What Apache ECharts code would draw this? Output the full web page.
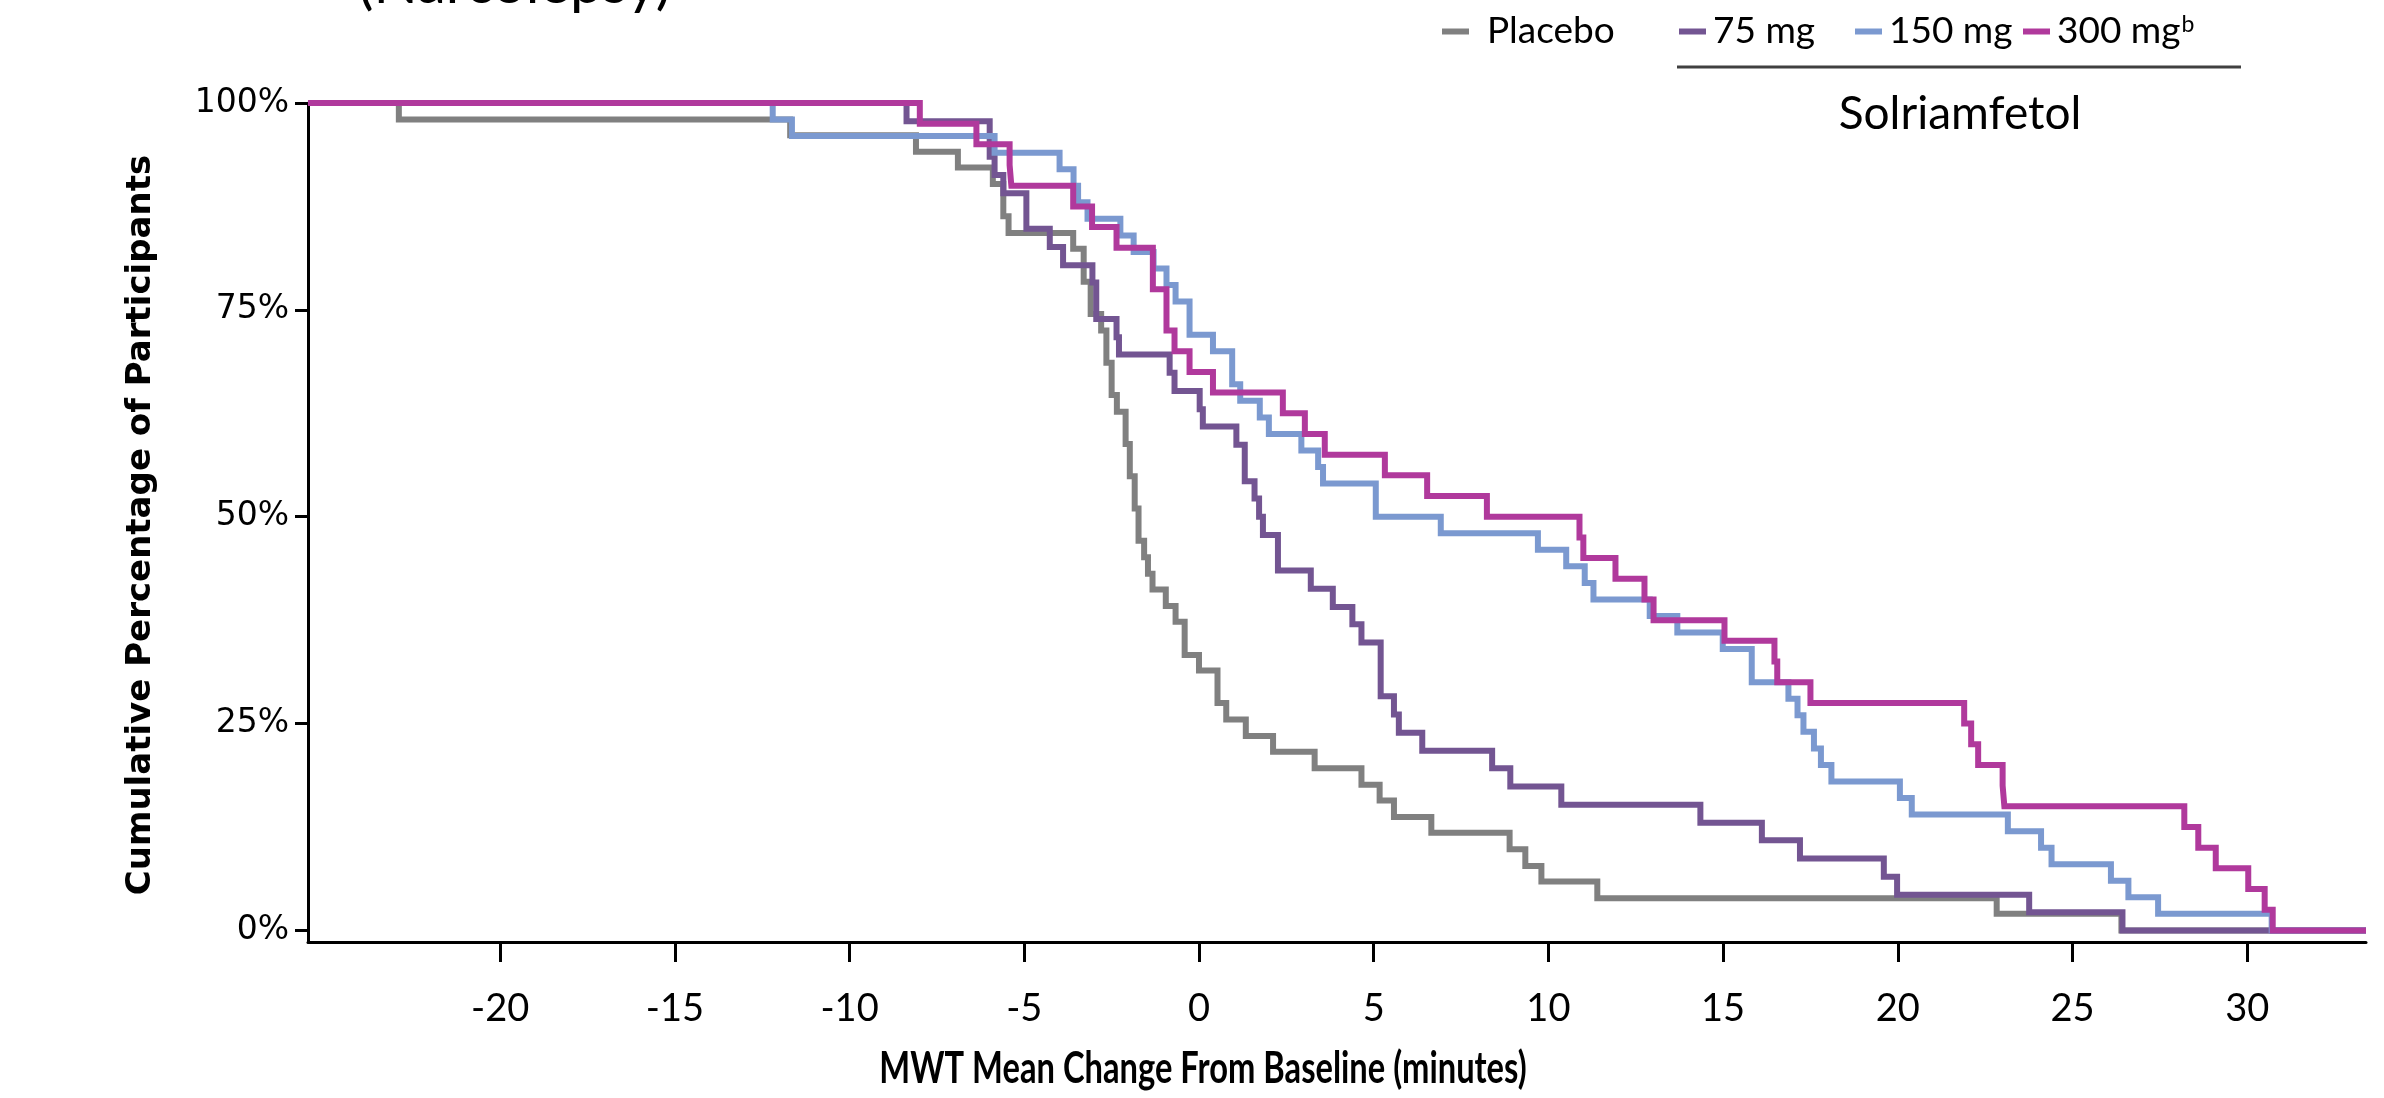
<!DOCTYPE html>
<html>
<head>
<meta charset="utf-8">
<script src="https://cdn.jsdelivr.net/npm/echarts@6/dist/echarts.min.js"></script>
<style>
  html, body { margin: 0; padding: 0; background: #ffffff; }
  #chart { width: 2384px; height: 1098px; }
</style>
</head>
<body>
<div id="chart"></div>
<script>
// Cumulative distribution of MWT change from baseline, by treatment group.
// Each step is [minutes, percent of participants still at or above that change].
const placeboSteps = [
  [-25.5, 100], [-22.9, 98.0], [-11.7, 96.1], [-8.1, 94.1], [-6.9, 92.2], [-5.9, 90.2],
  [-5.6, 86.3], [-5.45, 84.3], [-3.6, 82.4], [-3.3, 78.4], [-3.1, 74.5], [-2.8, 72.5],
  [-2.65, 68.6], [-2.5, 64.7], [-2.35, 62.7], [-2.1, 58.8], [-1.98, 54.9], [-1.84, 51.0],
  [-1.73, 47.1], [-1.57, 45.1], [-1.46, 43.1], [-1.33, 41.2], [-0.95, 39.2], [-0.67, 37.3],
  [-0.41, 33.3], [0.0, 31.4], [0.53, 27.5], [0.78, 25.5], [1.34, 23.5], [2.12, 21.6],
  [3.31, 19.6], [4.65, 17.6], [5.17, 15.7], [5.58, 13.7], [6.65, 11.8], [8.89, 9.8],
  [9.34, 7.8], [9.8, 5.9], [11.4, 3.9], [22.83, 2.0], [26.4, 0], [33.4, 0]
];
const mg75Steps = [
  [-25.5, 100], [-8.37, 97.8], [-5.99, 93.5], [-5.85, 91.3], [-5.6, 89.1], [-4.94, 84.8],
  [-4.27, 82.6], [-3.89, 80.4], [-3.05, 78.3], [-2.94, 73.9], [-2.36, 71.7], [-2.29, 69.6],
  [-0.84, 67.4], [-0.70, 65.2], [0.02, 63.0], [0.11, 60.9], [1.07, 58.7], [1.31, 54.3],
  [1.59, 52.2], [1.72, 50.0], [1.83, 47.8], [2.26, 43.5], [3.2, 41.3], [3.83, 39.1],
  [4.39, 37.0], [4.65, 34.8], [5.2, 28.3], [5.58, 26.1], [5.72, 23.9], [6.39, 21.7],
  [8.39, 19.6], [8.91, 17.4], [10.37, 15.2], [14.35, 13.0], [16.11, 10.9], [17.2, 8.7],
  [19.6, 6.5], [19.98, 4.3], [23.76, 2.2], [26.43, 0], [33.4, 0]
];
const mg150Steps = [
  [-25.5, 100], [-12.2, 98], [-11.65, 96], [-5.85, 94], [-3.99, 92], [-3.59, 90],
  [-3.46, 88], [-3.19, 86], [-2.25, 84], [-1.87, 82], [-1.30, 80], [-0.93, 78],
  [-0.67, 76], [-0.27, 72], [0.40, 70], [0.95, 66], [1.18, 64], [1.74, 62], [2.00, 60],
  [2.93, 58], [3.41, 56], [3.55, 54], [5.06, 50], [6.92, 48], [9.70, 46], [10.51, 44],
  [11.04, 42], [11.29, 40], [12.9, 38], [13.69, 36], [14.99, 34], [15.82, 30], [16.87, 28],
  [17.13, 26], [17.3, 24], [17.6, 22], [17.8, 20], [18.1, 18], [20.06, 16], [20.4, 14],
  [23.15, 12], [24.1, 10], [24.4, 8], [26.1, 6], [26.6, 4], [27.45, 2], [30.7, 0], [33.4, 0]
];
const mg300Steps = [
  [-25.5, 100], [-7.99, 97.5], [-6.37, 95], [-5.42, 92.5], [-5.37, 90], [-3.6, 87.5],
  [-3.06, 85], [-2.36, 82.5], [-1.32, 77.5], [-0.93, 72.5], [-0.70, 70], [-0.27, 67.5],
  [0.40, 65], [2.40, 62.5], [3.03, 60], [3.60, 57.5], [5.32, 55], [6.53, 52.5], [8.24, 50],
  [10.89, 47.5], [11.0, 45], [11.92, 42.5], [12.75, 40], [13.01, 37.5], [15.04, 35],
  [16.47, 32.5], [16.55, 30], [17.5, 27.5], [21.9, 25], [22.1, 22.5], [22.3, 20],
  [23.0, 17.5], [23.05, 15], [28.2, 12.5], [28.6, 10], [29.1, 7.5], [30.03, 5],
  [30.5, 2.5], [30.73, 0], [33.4, 0]
];

const groupNames = ['Placebo', '75 mg', '150 mg', '300 mg'];
const groupColors = ['#808080', '#735592', '#7b99d0', '#b0399c'];
const xTickValues = [-20, -15, -10, -5, 0, 5, 10, 15, 20, 25, 30];
const yTickValues = [0, 25, 50, 75, 100];

const narrow = 'Lato, "Noto Sans", sans-serif';
const wide = '"DejaVu Sans", Verdana, sans-serif';

const chart = echarts.init(document.getElementById('chart'), null, { renderer: 'canvas' });

const stepSeries = [placeboSteps, mg75Steps, mg150Steps, mg300Steps].map((steps, i) => ({
  name: groupNames[i],
  type: 'line',
  step: 'end',
  data: steps,
  symbol: 'none',
  lineStyle: { color: groupColors[i], width: 6, join: 'miter' },
  itemStyle: { color: groupColors[i] },
  z: 2 + i
}));

const legendLefts = [1437, 1674, 1850, 2018];
const legendTextGaps = [13, 2, 2, 2];
const legends = groupNames.map((name, i) => ({
  data: [name],
  left: legendLefts[i],
  top: 8,
  icon: 'rect',
  itemWidth: 27,
  itemHeight: 6,
  itemGap: 0,
  selectedMode: false,
  formatter: n => (n === '300 mg' ? '300 mg{sup|b}' : n),
  textStyle: {
    fontFamily: narrow,
    fontSize: 37,
    color: '#000',
    padding: [0, 0, 0, legendTextGaps[i]],
    rich: {
      sup: { fontFamily: narrow, fontSize: 23, color: '#000', verticalAlign: 'top', padding: [0, 0, 14, 1] }
    }
  }
}));

chart.setOption({
  animation: false,
  backgroundColor: '#ffffff',
  grid: { left: 308, top: 103, width: 2058, height: 839, containLabel: false },
  legend: legends,
  xAxis: {
    type: 'value',
    min: -25.5,
    max: 33.4,
    axisLine: { show: true, onZero: false, lineStyle: { color: '#000', width: 3 } },
    axisTick: { show: true, customValues: xTickValues, length: 20, lineStyle: { color: '#000', width: 3 } },
    axisLabel: { customValues: xTickValues, margin: 48, fontFamily: narrow, fontSize: 38, color: '#000' },
    splitLine: { show: false }
  },
  yAxis: {
    type: 'value',
    min: -1.4,
    max: 100,
    axisLine: { show: true, onZero: false, lineStyle: { color: '#000', width: 3 } },
    axisTick: { show: true, customValues: yTickValues, length: 13, lineStyle: { color: '#000', width: 3 } },
    axisLabel: { customValues: yTickValues, margin: 19, fontFamily: wide, fontSize: 33, color: '#000', formatter: v => v + '%' },
    splitLine: { show: false }
  },
  graphic: [
    {
      // panel heading, clipped by the top edge
      type: 'text', x: 358, y: 13,
      style: { text: '(Narcolepsy)', font: '58px ' + narrow, fill: '#000', align: 'left', verticalAlign: 'bottom' }
    },
    {
      type: 'text', x: 1203, y: 1069, scaleX: 0.76,
      style: { text: 'MWT Mean Change From Baseline (minutes)', font: 'bold 43px ' + narrow, fill: '#000', align: 'center', verticalAlign: 'middle' }
    },
    {
      type: 'text', x: 141, y: 525, rotation: Math.PI / 2,
      style: { text: 'Cumulative Percentage of Participants', font: 'bold 34px ' + wide, fill: '#000', align: 'center', verticalAlign: 'middle' }
    },
    {
      type: 'line', shape: { x1: 1677, y1: 67, x2: 2241, y2: 67 },
      style: { stroke: '#404040', lineWidth: 3 }
    },
    {
      type: 'text', x: 1960, y: 114,
      style: { text: 'Solriamfetol', font: '46px ' + narrow, fill: '#000', align: 'center', verticalAlign: 'middle' }
    }
  ],
  series: stepSeries
});
</script>
</body>
</html>
